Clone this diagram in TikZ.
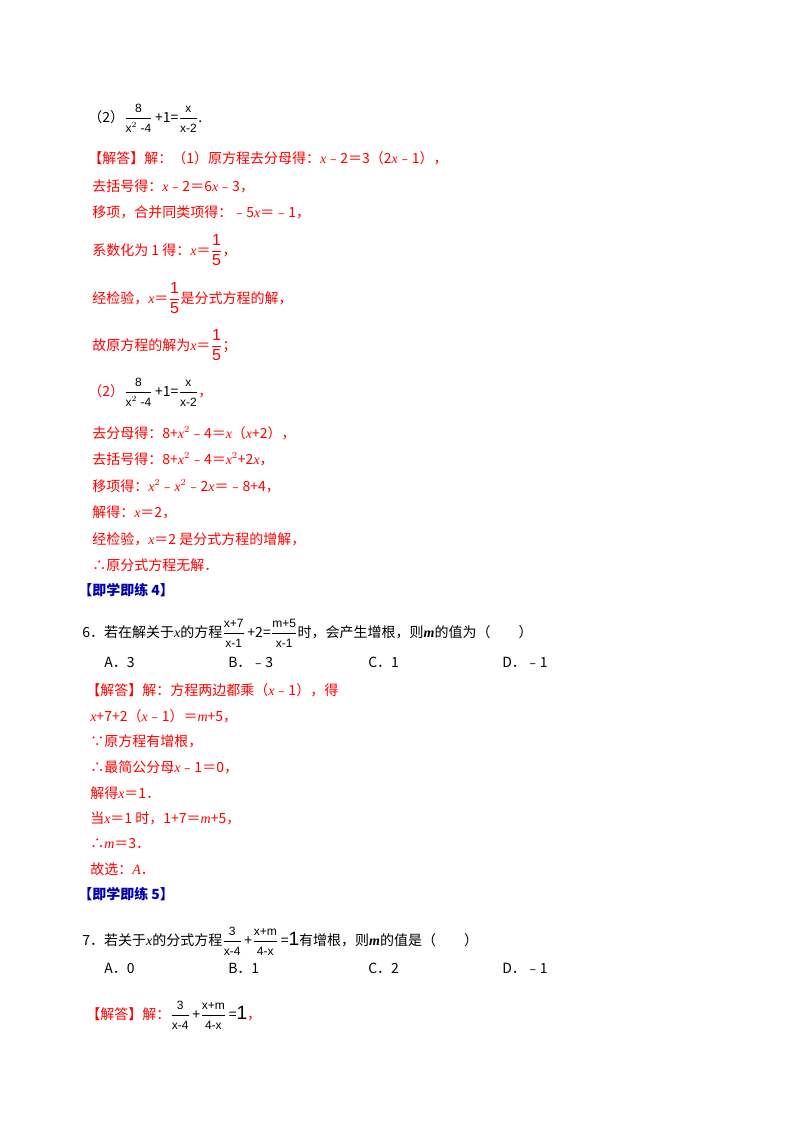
\documentclass[tikz,border=0pt]{standalone}
\usepackage{amsmath}
\usepackage{fontspec}
\setmainfont{Liberation Serif}
\newfontfamily\cjk{Noto Sans CJK SC}
\newfontfamily\sff{Liberation Sans}
\newcommand\vx[1]{{\rmfamily\itshape #1}}
\newcommand\fr[2]{$\dfrac{\hbox{\sff\small #1}}{\hbox{\sff\small #2}}$}
\newcommand\frb[2]{$\dfrac{\hbox{\sff\large #1}}{\hbox{\sff\large #2}}$}
\definecolor{ans}{RGB}{255,0,0}
\begin{document}
\begin{tikzpicture}[x=0.75pt,y=-0.75pt,
 t/.style={anchor=west,inner sep=0pt,font=\cjk\fontsize{10.5}{12}\selectfont},
 r/.style={t,text=ans},
 h/.style={t,text=blue!70!black,font=\cjk\bfseries\fontsize{10.5}{12}\selectfont}]
\useasboundingbox (0,0) rectangle (800,1132);
\fill[white] (0,0) rectangle (800,1132);
\node[t] (a1) at (88,118) {（2）\fr{8}{x$^{2}$ -4}\,+1=\fr{x}{x-2}.};
\node[r] (a2) at (88,158) {【解答】解：（1）原方程去分母得：\vx{x}﹣2＝3（2\vx{x}﹣1），};
\node[r] (a3) at (92,186) {去括号得：\vx{x}﹣2＝6\vx{x}﹣3，};
\node[r] (a4) at (92,212) {移项，合并同类项得：﹣5\vx{x}＝﹣1，};
\node[r] (a5) at (92,250) {系数化为 1 得：\vx{x}＝\frb{1}{5}，};
\node[r] (a6) at (92,298) {经检验，\vx{x}＝\frb{1}{5}是分式方程的解，};
\node[r] (a7) at (92,345) {故原方程的解为\vx{x}＝\frb{1}{5}；};
\node[r] (a8) at (88,392) {（2）\textcolor{black}{\fr{8}{x$^{2}$ -4}\,+1=\fr{x}{x-2}}，};
\node[r] (a9) at (92,433) {去分母得：8+\vx{x}$^2$﹣4＝\vx{x}（\vx{x}+2），};
\node[r] (a10) at (92,459) {去括号得：8+\vx{x}$^2$﹣4＝\vx{x}$^2$+2\vx{x}，};
\node[r] (a11) at (92,486) {移项得：\vx{x}$^2$﹣\vx{x}$^2$﹣2\vx{x}＝﹣8+4，};
\node[r] (a12) at (92,512) {解得：\vx{x}＝2，};
\node[r] (a13) at (92,539) {经检验，\vx{x}＝2 是分式方程的增解，};
\node[r] (a14) at (92,565) {∴原分式方程无解．};
\node[h] (h4) at (78,590) {【即学即练 4】};
\node[t] (q6) at (82,633) {6．若在解关于\vx{x}的方程\fr{x+7}{x-1}\,+2=\fr{m+5}{x-1}时，会产生增根，则\vx{\bfseries m}的值为（\qquad）};
\node[t] (o1) at (104,662) {A．3};
\node[t] (o2) at (228,662) {B．﹣3};
\node[t] (o3) at (368,662) {C．1};
\node[t] (o4) at (502,662) {D．﹣1};
\node[r] (b1) at (86,690) {【解答】解：方程两边都乘（\vx{x}﹣1），得};
\node[r] (b2) at (90,716) {\vx{x}+7+2（\vx{x}﹣1）＝\vx{m}+5，};
\node[r] (b3) at (90,741) {∵原方程有增根，};
\node[r] (b4) at (90,767) {∴最简公分母\vx{x}﹣1＝0，};
\node[r] (b5) at (90,793) {解得\vx{x}＝1．};
\node[r] (b6) at (90,818) {当\vx{x}＝1 时，1+7＝\vx{m}+5，};
\node[r] (b7) at (90,843) {∴\vx{m}＝3．};
\node[r] (b8) at (90,869) {故选：\vx{A}．};
\node[h] (h5) at (78,894) {【即学即练 5】};
\node[t] (q7) at (82,941) {7．若关于\vx{x}的分式方程\fr{3}{x-4}\,+\fr{x+m}{4-x}\,={\sff\Large 1}有增根，则\vx{\bfseries m}的值是（\qquad）};
\node[t] (p1) at (104,968) {A．0};
\node[t] (p2) at (228,968) {B．1};
\node[t] (p3) at (368,968) {C．2};
\node[t] (p4) at (502,968) {D．﹣1};
\node[r] (c1) at (86,1015) {【解答】解：\textcolor{black}{\fr{3}{x-4}\,+\fr{x+m}{4-x}\,={\sff\Large 1}}，};
\end{tikzpicture}
\end{document}
